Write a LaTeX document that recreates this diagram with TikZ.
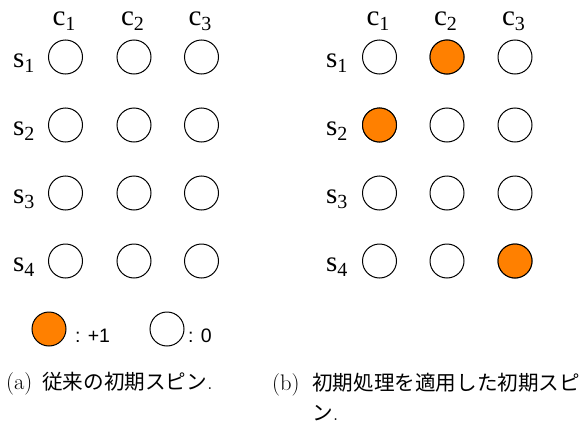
\documentclass[tikz,border=0pt]{standalone}
\usepackage{fontspec}
\newfontfamily\timesfnt{Liberation Serif}
\newfontfamily\arialfnt{Liberation Sans}
\newfontfamily\cjk{Noto Sans CJK JP}
\definecolor{spinorange}{HTML}{FF8000}
\newcommand{\lbl}[2]{{\timesfnt\fontsize{29}{29}\selectfont #1\raisebox{-5pt}{\fontsize{20}{20}\selectfont #2}}}
\begin{document}
\begin{tikzpicture}[x=1pt,y=-1pt,
  spin/.style={circle,draw=black,line width=1pt,minimum size=34pt,inner sep=0pt,fill=white},
  up/.style={spin,fill=spinorange},
  lab/.style={anchor=base west,inner sep=0pt,outer sep=0pt},
  legtext/.style={anchor=base west,inner sep=0pt,font=\arialfnt\fontsize{19.5}{19.5}\selectfont},
  captext/.style={anchor=base west,inner sep=0pt,font=\fontsize{22.5}{22.5}\selectfont},
  capcjk/.style={anchor=base west,inner sep=0pt,font=\fontsize{22.5}{22.5}\selectfont}]
\newcommand{\cj}[1]{{\cjk\fontsize{20.6}{20.6}\selectfont #1}}
\useasboundingbox (0,0) rectangle (581,423);
% left panel
\foreach \cx [count=\i] in {65.5,134,201.5} {
  \node[lab] (lc\i) at (\cx-13,25) {\lbl{c}{\i}};
}
\foreach \ry [count=\j] in {57,125,193,261} {
  \node[lab] (ls\j) at (13,\ry+10) {\lbl{s}{\j}};
  \foreach \cx [count=\i] in {65.5,134,201.5} {
    \node[spin] (a\j\i) at (\cx,\ry) {};
  }
}
% right panel
\foreach \cx [count=\i] in {379.5,447,515} {
  \node[lab] (rc\i) at (\cx-13,25) {\lbl{c}{\i}};
}
\foreach \ry [count=\j] in {57,125,193,261} {
  \node[lab] (rs\j) at (326,\ry+10) {\lbl{s}{\j}};
  \foreach \cx [count=\i] in {379.5,447,515} {
    \node[spin] (b\j\i) at (\cx,\ry) {};
  }
}
\node[up] at (b12) {};
\node[up] at (b21) {};
\node[up] at (b43) {};
% legend
\node[up] (legup) at (49,329) {};
\node[legtext] (legupt) at (75,342) {: +1};
\node[spin] (legzero) at (167,329) {};
\node[legtext] (legzerot) at (188,342) {: 0};
% captions
\node[captext] (capa) at (6,389) {(a)};
\node[capcjk] (capatext) at (42,389) {\cj{従来の初期スピン}.};
\node[captext] (capb) at (272,390) {(b)};
\node[capcjk] (capbtext) at (312,390) {\cj{初期処理を適用した初期スピ}};
\node[capcjk] (capb2) at (312,420) {\cj{ン}.};
\end{tikzpicture}
\end{document}
